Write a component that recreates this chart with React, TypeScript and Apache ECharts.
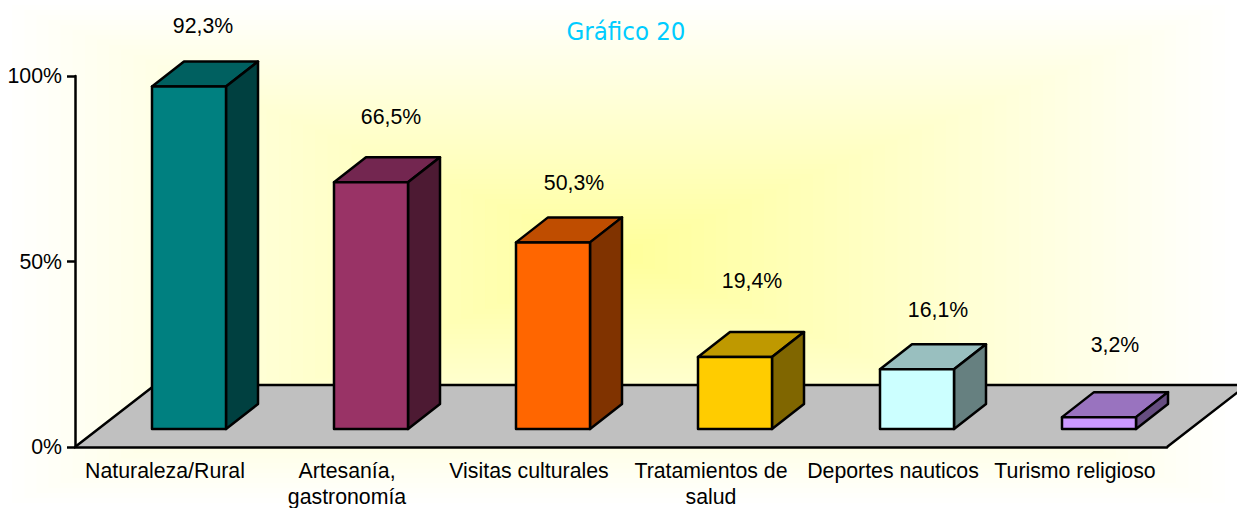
import React, { useEffect, useRef } from "react";
import * as echarts from "echarts";

const categories = [
  "Naturaleza/Rural",
  "Artesanía,\ngastronomía",
  "Visitas culturales",
  "Tratamientos de\nsalud",
  "Deportes nauticos",
  "Turismo religioso",
];
const values = [92.3, 66.5, 50.3, 19.4, 16.1, 3.2];
const yTicks = [0, 50, 100];

const frontColors = ["#008080", "#993366", "#FF6600", "#FFCC00", "#CCFFFF", "#CC99FF"];
const topColors = ["#006060", "#732650", "#BF4D00", "#BF9900", "#99BFBF", "#9973BF"];
const sideColors = ["#004040", "#4D1A33", "#803300", "#806600", "#668080", "#664D80"];

// label layout relative to the bar: pixels right of the band centre, pixels above the front top
const labelDx = [37, 43, 44, 40, 44, 39];
const labelLift = [60.5, 65.5, 59.5, 76.5, 59.5, 72.5];

const FONT = "Liberation Sans, Arial, sans-serif";
const INK = "#000";
const TEXT_SIZE = 21.3;
const STROKE = 2.5;
const PAGE_W = 1237;
const PAGE_H = 508;
const BG_STEPS = 51;

export default function App() {
  const ref = useRef<HTMLDivElement>(null);
  useEffect(() => {
    document.body.style.margin = "0";
    const chart = echarts.init(ref.current!, null, { renderer: "svg" });

    // rectangular ("from centre") backdrop: white at the page edge, pale yellow in the middle
    const backdropItem = () => {
      const children: any[] = [];
      for (let k = 0; k < BG_STEPS; k++) {
        const t = k / BG_STEPS;
        const blue = Math.round(255 - 102 * t);
        children.push({
          type: "rect",
          shape: {
            x: (PAGE_W / 2) * t,
            y: (PAGE_H / 2) * t,
            width: PAGE_W * (1 - t),
            height: PAGE_H * (1 - t),
          },
          style: { fill: `rgb(255,255,${blue})`, stroke: "none" },
        });
      }
      return { type: "group", children };
    };

    const floorItem = (_p: any, api: any) => {
      const l = api.coord([0, 0]);
      const band = api.size([1, 0])[0];
      const x0 = l[0] - band / 2;
      const x1 = l[0] + band * 5.5;
      const y = l[1];
      const dx = 80;
      const dy = 62;
      return {
        type: "group",
        children: [
          {
            type: "polygon",
            shape: { points: [[x0, y], [x1, y], [x1 + dx, y - dy], [x0 + dx, y - dy]] },
            style: { fill: "#C0C0C0", stroke: "none" },
          },
          {
            type: "polyline",
            shape: { points: [[x0, y], [x0 + dx, y - dy], [x1 + dx, y - dy], [x1, y]] },
            style: { fill: "none", stroke: INK, lineWidth: STROKE },
          },
        ],
      };
    };

    const barItem = (_p: any, api: any) => {
      const i = api.value(0);
      const base = api.coord([i, 0]);
      const top = api.coord([i, api.value(1)]);
      const x0 = base[0] - 14;
      const x1 = x0 + 74;
      const yb = base[1] - 18;
      const yt = top[1] - 18;
      const dx = 32;
      const dy = 25;
      const line = { stroke: INK, lineWidth: STROKE, lineJoin: "round" };
      return {
        type: "group",
        children: [
          {
            type: "polygon",
            shape: { points: [[x0, yt], [x1, yt], [x1 + dx, yt - dy], [x0 + dx, yt - dy]] },
            style: { fill: topColors[i], ...line },
          },
          {
            type: "polygon",
            shape: { points: [[x1, yt], [x1 + dx, yt - dy], [x1 + dx, yb - dy], [x1, yb]] },
            style: { fill: sideColors[i], ...line },
          },
          {
            type: "rect",
            shape: { x: x0, y: yt, width: x1 - x0, height: yb - yt },
            style: { fill: frontColors[i], ...line },
          },
          {
            type: "text",
            style: {
              x: base[0] + labelDx[i],
              y: yt - labelLift[i],
              text: api.value(1).toFixed(1).replace(".", ",") + "%",
              fill: INK,
              font: `${TEXT_SIZE}px ${FONT}`,
              align: "center",
              verticalAlign: "middle",
            },
          },
        ],
      };
    };

    chart.setOption({
      animation: false,
      backgroundColor: "#FFFFFF",
      title: {
        text: "Gráfico 20",
        left: 621,
        top: 13,
        textAlign: "center",
        z: 10,
        textStyle: { color: "#00CCFF", fontSize: 25.5, fontWeight: "normal", fontFamily: "DejaVu Sans Condensed, DejaVu Sans" },
      },
      grid: { left: 75, right: 70, top: 76, bottom: 61, outerBoundsMode: "none" },
      xAxis: {
        type: "category",
        data: categories,
        boundaryGap: true,
        axisLine: { lineStyle: { color: INK, width: STROKE } },
        axisTick: { length: 8, lineStyle: { color: INK, width: STROKE } },
        axisLabel: { interval: 0, color: INK, fontSize: TEXT_SIZE, fontFamily: FONT, lineHeight: 26, margin: 11, padding: [0, 2, 0, 0] },
      },
      yAxis: {
        type: "value",
        min: yTicks[0],
        max: yTicks[2],
        interval: yTicks[1] - yTicks[0],
        splitLine: { show: false },
        axisLine: { show: true, lineStyle: { color: INK, width: STROKE } },
        axisTick: { show: true, length: 8, lineStyle: { color: INK, width: STROKE } },
        axisLabel: { color: INK, fontSize: TEXT_SIZE, fontFamily: FONT, margin: 13, formatter: "{value}%" },
      },
      series: [
        { type: "custom", z: -2, clip: false, silent: true, renderItem: backdropItem, data: [[0, 0]] },
        { type: "custom", z: -1, clip: false, silent: true, renderItem: floorItem, data: [[0, 0]] },
        {
          type: "custom",
          z: 3,
          clip: false,
          renderItem: barItem,
          encode: { x: 0, y: 1 },
          data: values.map((v, i) => [i, v]),
        },
      ],
    });
    return () => chart.dispose();
  }, []);
  return <div ref={ref} style={{ width: PAGE_W, height: PAGE_H }} />;
}
